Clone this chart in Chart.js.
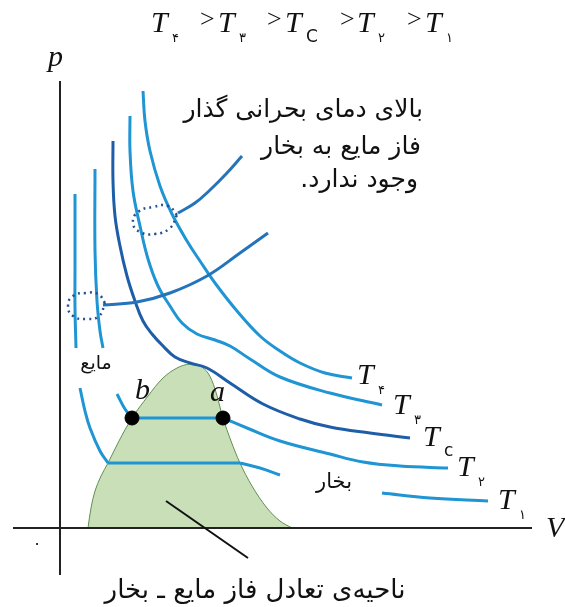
<!DOCTYPE html>
<html>
<head>
<meta charset="utf-8">
<script src="https://cdn.jsdelivr.net/npm/chart.js@4.4.0/dist/chart.umd.min.js"></script>
<style>
body { margin: 0; background: #fff; }
#wrap { width: 565px; height: 607px; }
</style>
</head>
<body>
<div id="wrap"><canvas id="pv"></canvas></div>
<script>
// [V, p], origin where the axes cross
const t1Liquid = [[15,334],[15,260],[15,220],[16,180]];
const t1Lower = [[20,140],[25,117],[30,100],[40,77],[48,65]];
const t1Flat = [[48,65],[180,65]];
const t1Vapor = [[180,65],[200,60],[220,53]];
const t1Far = [[322,35],[370,30],[428,27]];

const t2Liquid = [[35,359],[35,277],[37,227],[40,197],[43,180]];
const t2Lower = [[57,134],[65,119],[72,110]];
const t2Flat = [[72,110],[163,110]];
const t2Vapor = [[163,110],[187,100],[220,87],[270,74],[303,66],[340,62],[388,60]];

const tcLine = [[53,387],[53,347],[55,312],[60,282],[67,252],[75,227],[83,207],[92,194],[103,182],
  [115,171],[130,165],[147,160],[170,145],[203,124],[240,109],[270,101],[310,95],[350,90]];

const t3Line = [[70,412],[70,377],[73,337],[80,302],[88,269],[98,242],[110,222],[122,205],[137,194],
  [155,188],[170,182],[190,169],[220,151],[270,135],[322,123]];

const t4Line = [[83,437],[85,407],[90,377],[100,342],[112,314],[127,287],[140,267],[155,245],[177,217],
  [200,192],[220,177],[240,165],[265,155],[292,150]];

const crossUpper = [[118,315],[135,325],[150,338],[166,354],[182,372]];
const crossLower = [[43,223],[77,226],[110,235],[147,252],[180,275],[208,295]];

const ovalUpper = [[117,313],[108,322],[93,321],[78,316],[73,305],[80,296],[95,294],[110,300],[117,313]];
const ovalLower = [[45,225],[38,234],[26,235],[13,232],[8,222],[13,212],[26,209],[39,212],[45,225]];

const dome = [[28,0],[31,20],[35,37],[41,52],[48,65],[59,87],[72,110],[88,132],[103,150],[117,160],
  [130,164],[140,162],[148,155],[155,139],[163,110],[171,87],[180,65],[192,42],[207,20],[220,7],[232,0]];

const pointer = [[106,27],[188,-30]];
const ends = [[72,110],[163,110]];   // b, a

const axisV = [[-47,0],[472,0]];
const axisP = [[0,447],[0,-47]];

const xy = arr => arr.map(d => ({ x: d[0], y: d[1] }));

const light = '#1f95d4';
const dark = '#1e5ea8';
const mid = '#2474bb';

function line(data, color, w, extra) {
  return Object.assign({
    data: xy(data), borderColor: color, borderWidth: w, pointRadius: 0,
    tension: 0.4, fill: false, order: 5
  }, extra || {});
}

const texts = {
  id: 'texts',
  afterDatasetsDraw(chart) {
    const c = chart.ctx, sx = chart.scales.x, sy = chart.scales.y;
    const put = (str, v, p, font, align, rtl) => {
      c.save();
      c.font = font;
      c.fillStyle = '#111';
      c.direction = rtl ? 'rtl' : 'ltr';
      c.textAlign = align || 'left';
      c.textBaseline = 'alphabetic';
      c.fillText(str, sx.getPixelForValue(v), sy.getPixelForValue(p));
      c.restore();
    };
    const serif = 'italic 30px "Liberation Serif", "DejaVu Serif", serif';
    const fa = 'px "DejaVu Sans", sans-serif';
    const gt = '26px "Liberation Serif", serif';
    const temp = (v, p, sub, subFont) => {
      put('T', v, p, serif);
      put(sub, v + 21, p - 10, subFont || ('13' + fa));
    };

    // title
    temp(91, 496, '۴');
    put('>', 140, 501, gt);
    temp(158, 496, '۳');
    put('>', 207, 501, gt);
    temp(225, 496, 'C', '17px "DejaVu Sans", sans-serif');
    put('>', 280, 501, gt);
    temp(297, 496, '۲');
    put('>', 347, 501, gt);
    temp(365, 496, '۱');

    put('p', -12, 462, serif);
    put('V', 486, -9, serif);
    put('۰', -23, -21, '16' + fa, 'center');
    put('a', 150, 127, serif);
    put('b', 75, 129, serif);

    temp(297, 144, '۴');
    temp(333, 114, '۳');
    temp(363, 82, 'c', '17px "DejaVu Sans", sans-serif');
    temp(397, 52, '۲');
    temp(438, 19, '۱');

    put('مایع', 36, 159, '19' + fa, 'center', true);
    put('بخار', 274, 40, '21' + fa, 'center', true);

    put('بالای دمای بحرانی گذار', 363, 411, '25' + fa, 'right', true);
    put('فاز مایع به بخار', 361, 374, '25' + fa, 'right', true);
    put('وجود ندارد.', 358, 341, '25' + fa, 'right', true);

    put('ناحیه‌ی تعادل فاز مایع ـ بخار', 195, -70, '26' + fa, 'center', true);
  }
};

new Chart(document.getElementById('pv'), {
  type: 'line',
  data: {
    datasets: [
      { type: 'scatter', data: xy(ends), pointRadius: 7, pointBackgroundColor: '#000', pointBorderColor: '#000', showLine: false, order: 0 },
      line(ovalUpper, '#23528f', 2.5, { borderDash: [2, 4], tension: 0.5, order: 1 }),
      line(ovalLower, '#23528f', 2.5, { borderDash: [2, 4], tension: 0.5, order: 1 }),
      line(crossUpper, mid, 3),
      line(crossLower, mid, 3),
      line(t4Line, light, 3),
      line(t3Line, light, 3),
      line(tcLine, dark, 3),
      line(t2Liquid, light, 3),
      line(t2Lower, light, 3),
      line(t2Flat, light, 3, { tension: 0 }),
      line(t2Vapor, light, 3),
      line(t1Liquid, light, 3),
      line(t1Lower, light, 3),
      line(t1Flat, light, 3, { tension: 0 }),
      line(t1Vapor, light, 3),
      line(t1Far, light, 3),
      line(pointer, '#111', 2, { tension: 0, order: 6 }),
      line(axisV, '#222', 2, { tension: 0, order: 7 }),
      line(axisP, '#222', 2, { tension: 0, order: 7 }),
      line(dome, '#5f8f52', 1, { fill: 'origin', backgroundColor: '#c9dfb8', tension: 0.35, order: 9 })
    ]
  },
  options: {
    responsive: true,
    maintainAspectRatio: false,
    animation: false,
    layout: { padding: 0, autoPadding: false },
    plugins: { legend: { display: false }, tooltip: { enabled: false } },
    scales: {
      x: { type: 'linear', min: -60, max: 505, display: false },
      y: { type: 'linear', min: -79, max: 528, display: false }
    }
  },
  plugins: [texts]
});
</script>
</body>
</html>
